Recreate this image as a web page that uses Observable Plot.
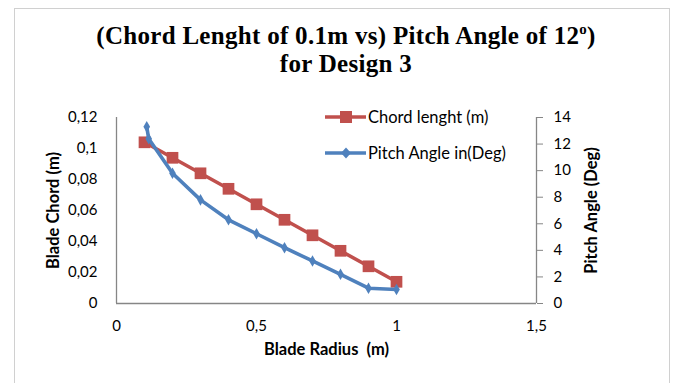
<!DOCTYPE html>
<html>
<head>
<meta charset="utf-8">
<script src="https://cdn.jsdelivr.net/npm/d3@7"></script>
<script src="https://cdn.jsdelivr.net/npm/@observablehq/plot@0.6"></script>
<style>
  html, body { margin: 0; padding: 0; background: #fff; }
  #wrap { position: relative; width: 683px; height: 383px; overflow: hidden; }
  #border { position: absolute; left: 14px; top: 8px; width: 656px; height: 400px; border: 1px solid #d0d0d0; box-sizing: border-box; }
  #title { position: absolute; left: 0; top: 22px; width: 692px; text-align: center;
    font-family: "Liberation Serif", serif; font-weight: bold; font-size: 25px; letter-spacing: 0.3px; line-height: 28px; color: #000; }
  .leg { position: absolute; left: 325px; font-family: Lato, sans-serif; font-size: 16.5px; color: #000; display: flex; align-items: center; }
  .leg svg { margin-right: 2px; }
  #chart { position: absolute; left: 0; top: 0; }
</style>
</head>
<body>
<div id="wrap">
  <div id="border"></div>
  <div id="chart"></div>
  <div id="title">(Chord Lenght of 0.1m vs) Pitch Angle of 12<sup style="font-size:15px;vertical-align:10px;line-height:0">o</sup>)<br>for Design 3</div>
  <div class="leg" style="top:106px"><svg width="41" height="22"><line x1="0" x2="41" y1="11" y2="11" stroke="#C0504D" stroke-width="3.5"/><rect x="15" y="5" width="12" height="12" fill="#C0504D"/></svg><span>Chord lenght (m)</span></div>
  <div class="leg" style="top:142px"><svg width="41" height="22"><line x1="0" x2="41" y1="11" y2="11" stroke="#4F81BD" stroke-width="3.5"/><path d="M21,5.5 L26,11 L21,16.5 L16,11 Z" fill="#4F81BD"/></svg><span>Pitch Angle in(Deg)</span></div>
</div>
<script>
// Data
const radius = [0.1, 0.2, 0.3, 0.4, 0.5, 0.6, 0.7, 0.8, 0.9, 1.0];
const chord = [0.104, 0.094, 0.084, 0.074, 0.064, 0.054, 0.044, 0.034, 0.024, 0.014];
const pitchRadius = [0.108, 0.115, 0.2, 0.3, 0.4, 0.5, 0.6, 0.7, 0.8, 0.9, 1.0];
const pitch = [13.3, 12.4, 9.8, 7.8, 6.3, 5.25, 4.2, 3.2, 2.2, 1.15, 1.05];
const xTicks = [0, 0.5, 1, 1.5];
const chordTicks = [0, 0.02, 0.04, 0.06, 0.08, 0.1, 0.12];
const pitchTicks = [0, 2, 4, 6, 8, 10, 12, 14];

const k = 0.12 / 14; // pitch -> chord-scale mapping for the secondary axis
const comma = d => String(d).replace(".", ",");

const chordData = radius.map((r, i) => ({r, v: chord[i]}));
const pitchData = pitchRadius.map((r, i) => ({r, v: pitch[i] * k}));

const red = "#C0504D", blue = "#4F81BD", axisGray = "#868686";

const chart = Plot.plot({
  width: 683, height: 383,
  marginLeft: 116, marginRight: 147, marginTop: 117, marginBottom: 80,
  style: {fontFamily: "Lato, sans-serif", fontSize: "15px", background: "transparent", color: "#000"},
  x: {domain: [0, 1.5]},
  y: {domain: [0, 0.12]},
  marks: [
    Plot.ruleY([0], {stroke: axisGray, strokeWidth: 1.3}),
    Plot.ruleX([0], {stroke: axisGray, strokeWidth: 1.3}),
    Plot.ruleX([1.5], {stroke: axisGray, strokeWidth: 1.3}),
    Plot.axisY({ticks: chordTicks, tickSize: 0, tickPadding: 19, tickFormat: comma, label: null, fontSize: 15}),
    Plot.axisY({anchor: "right", ticks: pitchTicks.map(v => v * k), tickFormat: d => Math.round(d / k),
      tickSize: 6, tickPadding: 11, stroke: axisGray, label: null, fontSize: 15}),
    Plot.axisX({ticks: xTicks, tickSize: 0, tickPadding: 17, tickFormat: comma, label: null, fontSize: 15}),
    Plot.line(chordData, {x: "r", y: "v", stroke: red, strokeWidth: 3.6}),
    Plot.dot(chordData, {x: "r", y: "v", symbol: "square", r: 6.6, fill: red}),
    Plot.line(pitchData, {x: "r", y: "v", stroke: blue, strokeWidth: 3.6}),
    Plot.dot(pitchData, {x: "r", y: "v", symbol: "diamond", r: 3.5, fill: blue}),
    Plot.text(["Blade Chord (m)"], {frameAnchor: "left", textAnchor: "middle", dx: -63, rotate: -90, fontWeight: "bold", fontSize: 16.5}),
    Plot.text(["Pitch Angle (Deg)"], {frameAnchor: "right", textAnchor: "middle", dx: 55, rotate: -90, fontWeight: "bold", fontSize: 16.5}),
    Plot.text(["Blade Radius  (m)"], {frameAnchor: "bottom", dy: 51, fontWeight: "bold", fontSize: 16.5})
  ]
});
document.getElementById("chart").appendChild(chart);
</script>
</body>
</html>
